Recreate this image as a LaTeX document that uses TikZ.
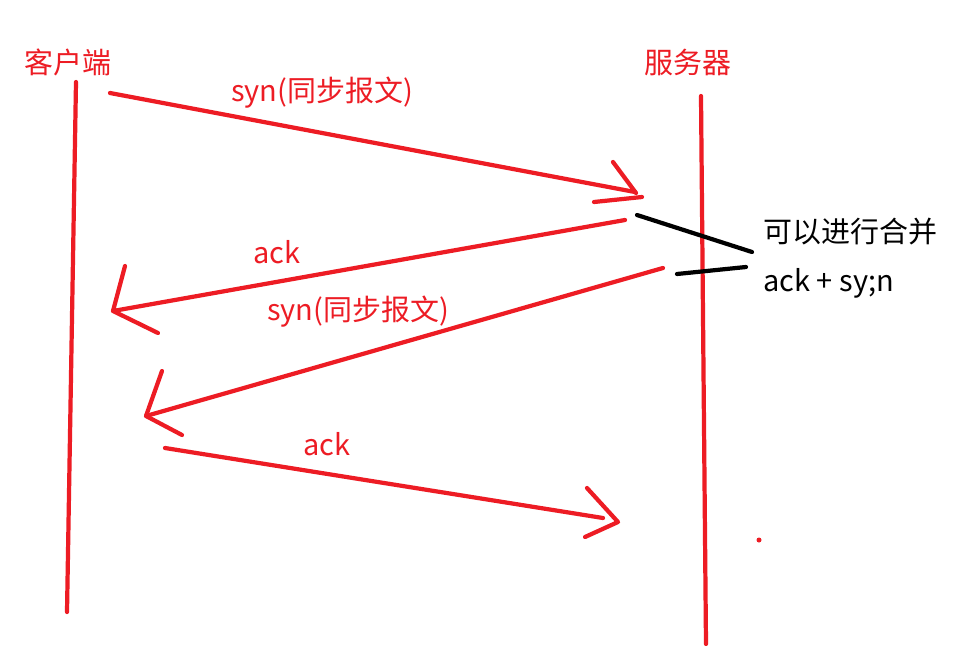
\documentclass[tikz,border=0pt]{standalone}
\usepackage{fontspec}
\setmainfont{Noto Sans CJK SC}
\usepackage{xcolor}
\usetikzlibrary{positioning, calc}
\definecolor{penred}{RGB}{237,28,36}
\tikzstyle{pen} = [draw=penred, line width=2.4pt, line cap=round, line join=round]
\tikzstyle{blackpen} = [draw=black, line width=2.4pt, line cap=round]
\tikzstyle{redlabel} = [text=penred, font=\fontsize{16.5}{19}\selectfont, inner sep=0pt]
\tikzstyle{note} = [text=black, font=\fontsize{16.5}{19}\selectfont, inner sep=0pt, anchor=west]

\begin{document}
\begin{tikzpicture}[x=0.02cm, y=-0.02cm]
\useasboundingbox[fill=white] (0,0) rectangle (971,646);

% Hosts
\node[redlabel] (client) at (68,62) {客户端};
\node[redlabel] (server) at (688,62) {服务器};

% Lifelines
\coordinate (clienttop) at (76,82);
\coordinate (clientbot) at (67,612);
\coordinate (servertop) at (701,96);
\coordinate (serverbot) at (706,644);
\draw[pen] (clienttop) -- (clientbot);
\draw[pen] (servertop) -- (serverbot);

% 1. syn
\coordinate (synA) at (110,93);
\coordinate (synB) at (635,192);
\draw[pen] (synA) -- (synB);
\draw[pen] (613,162) -- (636,193);
\draw[pen] (594,202) -- (642,197);
\node[redlabel] (synlbl) at (322,93) {syn(同步报文)};

% 2. ack
\coordinate (ackA) at (625,220);
\coordinate (ackB) at (113,311);
\draw[pen] (ackA) -- (ackB);
\draw[pen] (125,266) -- (ackB) -- (158,333);
\node[redlabel] (acklbl) at (277,252) {ack};

% 3. syn
\coordinate (synC) at (663,268);
\coordinate (synD) at (146,416);
\draw[pen] (synC) -- (synD);
\draw[pen] (162,371) -- (synD) -- (182,435);
\node[redlabel] (synlbltwo) at (358,312) {syn(同步报文)};

% 4. ack
\coordinate (ackC) at (165,448);
\coordinate (ackD) at (603,518);
\draw[pen] (ackC) -- (ackD);
\draw[pen] (587,488) -- (618,522) -- (585,537);
\node[redlabel] (acklbltwo) at (327,444) {ack};

% Merge note
\node[note] (merge) at (763,232) {可以进行合并};
\node[note] (combined) at (763,283) {ack + sy;n};
\coordinate (noteA) at (637,215);
\coordinate (noteB) at (752,252);
\coordinate (noteC) at (677,274);
\coordinate (noteD) at (746,267);
\draw[blackpen] (noteA) -- (noteB);
\draw[blackpen] (noteC) -- (noteD);

% stray dot
\fill[penred] (759,540) circle (2.5);
\end{tikzpicture}
\end{document}
